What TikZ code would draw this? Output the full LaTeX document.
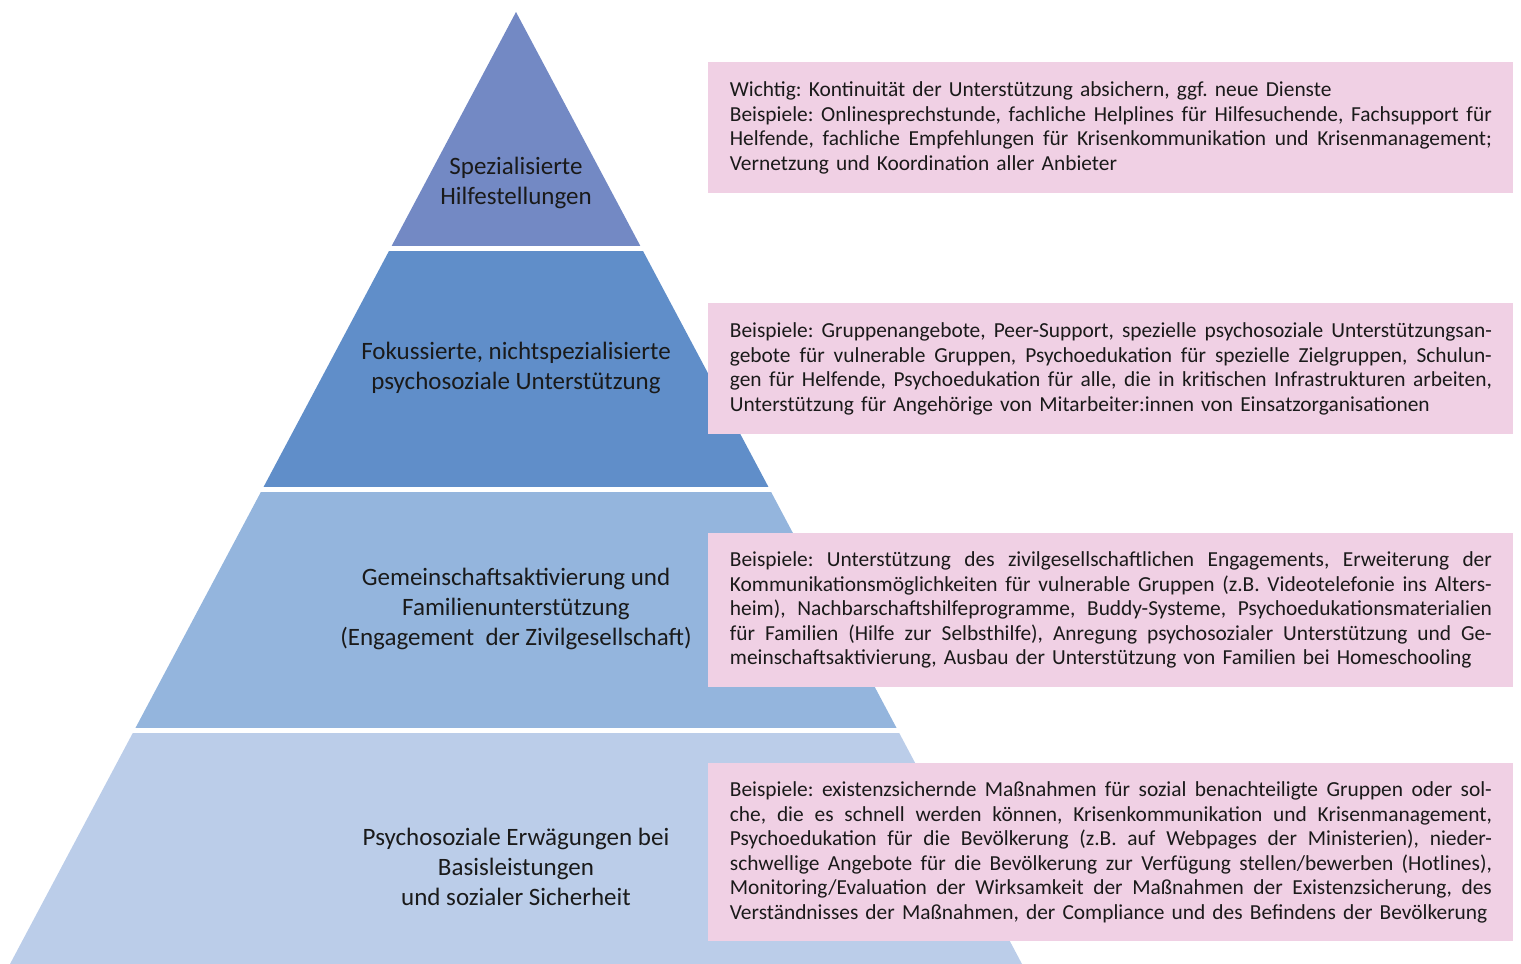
\documentclass[tikz,border=0pt]{standalone}
\usepackage{fontspec}
\setmainfont{Carlito}
\frenchspacing
\setlength{\parindent}{0pt}
\definecolor{layerA}{RGB}{115,137,196}
\definecolor{layerB}{RGB}{96,142,201}
\definecolor{layerC}{RGB}{148,181,221}
\definecolor{layerD}{RGB}{187,205,233}
\definecolor{boxpink}{RGB}{240,208,228}
\definecolor{inkgray}{RGB}{26,26,26}
% one justified line of a box
\newcommand{\jline}[1]{\leavevmode\hbox to 381pt{\spaceskip=0pt\xspaceskip=0pt #1}}
\tikzset{
  layertext/.style={align=center, text=inkgray, font=\fontsize{12.5}{15}\selectfont},
  infobox/.style={fill=boxpink, anchor=north west, inner xsep=10.75pt, inner ysep=0pt,
    text width=381pt, minimum width=402.5pt, align=left, text=inkgray,
    font=\fontsize{10.7}{12.25}\selectfont}
}
\begin{document}
\begin{tikzpicture}[x=0.5pt,y=-0.5pt]
  \useasboundingbox (0,0) rectangle (1521,964);
  % pyramid
  \begin{scope}
    \clip (516,12) -- (1022,964) -- (10,964) -- cycle;
    \fill[layerA] (0,12) rectangle (1521,246);
    \fill[layerB] (0,251) rectangle (1521,487);
    \fill[layerC] (0,492) rectangle (1521,728);
    \fill[layerD] (0,733) rectangle (1521,964);
  \end{scope}
  \node[layertext] (spez) at (516,183) {Spezialisierte\\Hilfestellungen};
  \node[layertext] (foku) at (516,368) {Fokussierte, nichtspezialisierte\\psychosoziale Unterstützung};
  \node[layertext] (gem) at (516,609) {Gemeinschaftsaktivierung und\\Familienunterstützung\\(Engagement\ \ der Zivilgesellschaft)};
  \node[layertext] (basis) at (516,867) {Psychosoziale Erwägungen bei\\Basisleistungen\\und sozialer Sicherheit};
  % examples
  \node[infobox, minimum height=65.5pt] (box1) at (708,62) {%
    Wichtig: Kontinuität der Unterstützung absichern, ggf. neue Dienste\\
    \jline{Beispiele: Onlinesprechstunde, fachliche Helplines für Hilfesuchende, Fachsupport für}\\
    \jline{Helfende, fachliche Empfehlungen für Krisenkommunikation und Krisenmanagement;}\\
    Vernetzung und Koordination aller Anbieter};
  \node[infobox, minimum height=65.5pt] (box2) at (708,303) {%
    \jline{Beispiele: Gruppenangebote, Peer-Support, spezielle psychosoziale Unterstützungsan-}\\
    \jline{gebote für vulnerable Gruppen, Psychoedukation für spezielle Zielgruppen, Schulun-}\\
    \jline{gen für Helfende, Psychoedukation für alle, die in kritischen Infrastrukturen arbeiten,}\\
    Unterstützung für Angehörige von Mitarbeiter:innen von Einsatzorganisationen};
  \node[infobox, minimum height=77pt] (box3) at (708,533) {%
    \jline{Beispiele: Unterstützung des zivilgesellschaftlichen Engagements, Erweiterung der}\\
    \jline{Kommunikationsmöglichkeiten für vulnerable Gruppen (z.B. Videotelefonie ins Alters-}\\
    \jline{heim), Nachbarschaftshilfeprogramme, Buddy-Systeme, Psychoedukationsmaterialien}\\
    \jline{für Familien (Hilfe zur Selbsthilfe), Anregung psychosozialer Unterstützung und Ge-}\\
    meinschaftsaktivierung, Ausbau der Unterstützung von Familien bei Homeschooling};
  \node[infobox, minimum height=89pt] (box4) at (708,763) {%
    \jline{Beispiele: existenzsichernde Maßnahmen für sozial benachteiligte Gruppen oder sol-}\\
    \jline{che, die es schnell werden können, Krisenkommunikation und Krisenmanagement,}\\
    \jline{Psychoedukation für die Bevölkerung (z.B. auf Webpages der Ministerien), nieder-}\\
    \jline{schwellige Angebote für die Bevölkerung zur Verfügung stellen/bewerben (Hotlines),}\\
    \jline{Monitoring/Evaluation der Wirksamkeit der Maßnahmen der Existenzsicherung, des}\\
    Verständnisses der Maßnahmen, der Compliance und des Befindens der Bevölkerung};
\end{tikzpicture}
\end{document}
